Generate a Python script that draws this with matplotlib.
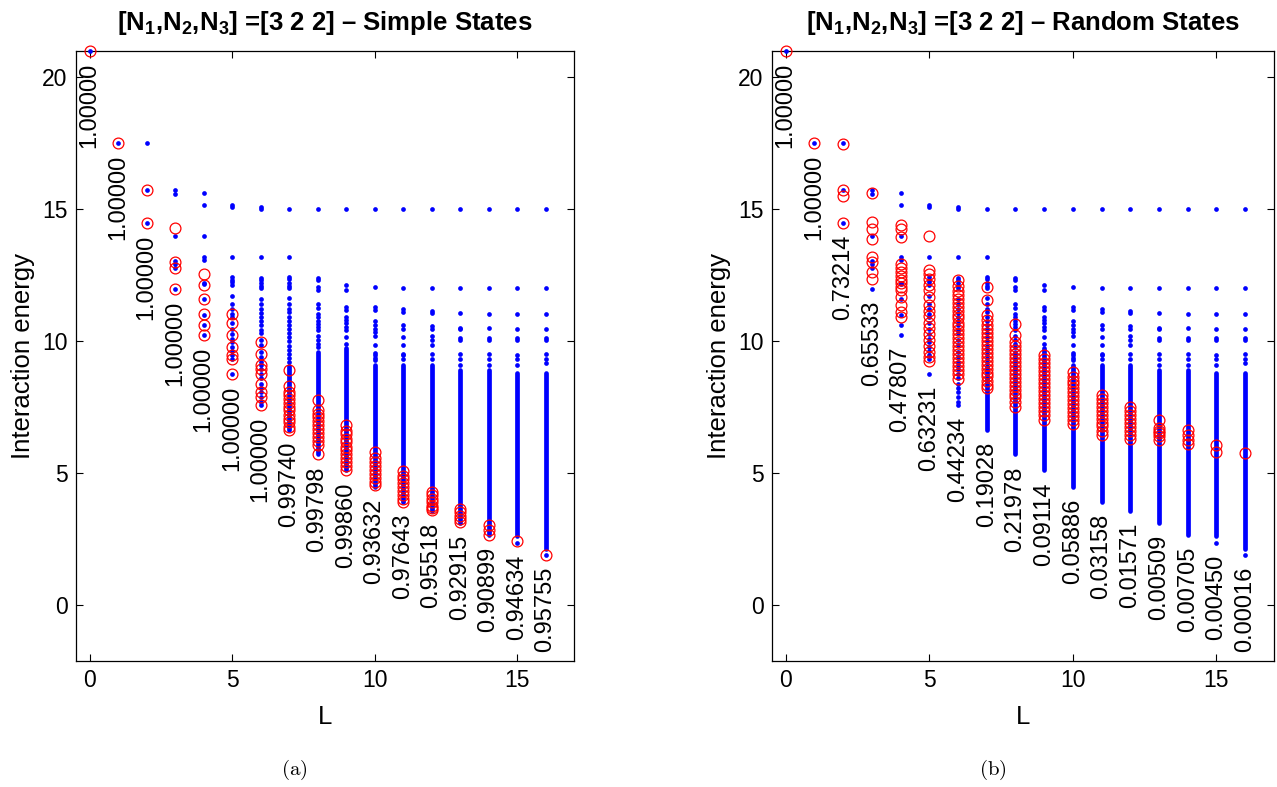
import matplotlib.pyplot as plt

plt.rcParams['font.family'] = ['Liberation Sans', 'DejaVu Sans']
plt.rcParams['mathtext.fontset'] = 'custom'
plt.rcParams['mathtext.rm'] = 'Liberation Sans'
plt.rcParams['mathtext.bf'] = 'Liberation Sans:bold'

L_vals = list(range(17))

levels = [
    [21.0],
    [17.5],
    [17.5, 15.72, 14.47],
    [15.71, 15.59, 13.98, 13.02, 12.93, 12.75, 11.98],
    [15.6, 15.16, 13.98, 13.18, 13.08, 12.21, 12.15, 11.58, 11.0, 10.6, 10.24],
    [15.16, 15.06, 13.2, 12.43, 12.33, 12.24, 12.14, 11.69, 11.42, 11.2, 11.03, 10.9,
     10.68, 10.45, 10.25, 10.09, 9.95, 9.77, 9.62, 9.46, 9.33, 8.76],
    [15.06, 15.02, 13.2, 12.4, 12.3, 12.2, 12.1, 12.0, 11.6, 11.4, 11.22, 11.05, 10.9,
     10.75, 10.6, 10.4, 10.3, 10.03, 9.85, 9.58, 9.4, 9.2, 9.08, 8.95, 8.76, 8.6, 8.38,
     8.2, 8.07, 7.88, 7.7, 7.56],
    [15.0, 13.2, 12.42, 12.35, 12.2, 12.1, 12.0, 11.62, 11.4, 11.22, 11.1, 10.92, 10.75,
     10.6, 10.45, 10.3, 10.15, 10.0, 9.82, 9.65, 9.5, 9.35, 9.2],
    [15.0, 12.4, 12.3, 12.05, 11.95, 11.42, 11.25, 11.04, 10.9, 10.75, 10.66, 10.52,
     10.41, 10.19, 10.05, 9.9, 9.77],
    [15.0, 12.13, 11.95, 11.29, 11.16, 10.91, 10.8, 10.68, 10.53, 10.41, 10.15, 9.9],
    [15.0, 12.05, 11.29, 11.16, 10.76, 10.6, 10.45, 10.34, 10.18, 9.86, 9.56, 9.46, 9.34, 9.27],
    [15.0, 12.0, 11.2, 11.1, 10.6, 10.45, 10.17, 9.86, 9.52, 9.45, 9.3],
    [15.0, 12.0, 11.12, 11.05, 10.55, 10.45, 10.2, 10.05, 9.86, 9.5, 9.3],
    [15.0, 12.0, 11.05, 10.5, 10.45, 10.1, 10.02, 9.5, 9.3, 9.1],
    [15.0, 12.0, 11.04, 10.48, 10.1, 10.03, 9.5, 9.3, 9.1],
    [15.0, 12.0, 11.04, 10.46, 10.12, 10.05, 9.48, 9.3, 9.1, 2.36],
    [15.0, 12.0, 11.04, 10.46, 10.12, 10.04, 9.5, 9.3, 9.15, 1.88],
]

# parts of the spectrum too dense to tell the dots apart: (low, high)
dense = [None] * 7 + [
    (6.62, 9.05), (5.7, 9.6), (5.1, 9.75), (4.47, 9.08), (3.9, 9.1), (3.55, 9.1),
    (3.1, 8.9), (2.64, 8.9), (2.6, 8.8), (2.1, 8.8),
]

# energies of the trial states (red circles)
simple_E = [
    [21.0],
    [17.5],
    [15.72, 14.47],
    [14.3, 13.0, 12.76, 11.98],
    [12.55, 12.12, 11.58, 11.02, 10.62, 10.24],
    [11.03, 10.68, 10.23, 9.77, 9.46, 9.33, 8.76],
    [9.96, 9.52, 9.08, 8.95, 8.76, 8.38, 8.07, 7.88, 7.56],
    [8.89, 8.3, 8.07, 7.95, 7.82, 7.66, 7.5, 7.37, 7.2, 7.05, 6.92, 6.75, 6.62],
    [7.78, 7.38, 7.25, 7.12, 6.95, 6.8, 6.66, 6.5, 6.36, 6.2, 6.04, 5.7],
    [6.8, 6.6, 6.46, 6.3, 6.16, 6.0, 5.86, 5.7, 5.56, 5.4, 5.26, 5.1],
    [5.8, 5.55, 5.42, 5.26, 5.1, 4.96, 4.8, 4.66, 4.53],
    [5.06, 4.9, 4.76, 4.6, 4.45, 4.3, 4.16, 4.02, 3.9],
    [4.28, 4.15, 4.02, 3.88, 3.76, 3.66, 3.59],
    [3.65, 3.5, 3.38, 3.25, 3.14],
    [3.02, 2.83, 2.64],
    [2.42],
    [1.88],
]

random_E = [
    [21.0],
    [17.5],
    [17.48, 15.72, 15.48, 14.48],
    [15.6, 14.51, 14.26, 13.88, 13.18, 12.99, 12.61, 12.36],
    [14.38, 14.25, 13.94, 12.93, 12.75, 12.6, 12.45, 12.3, 12.18, 12.05, 11.92, 11.67,
     11.35, 11.1, 10.91],
    [13.98, 12.68, 12.55, 12.35, 12.11, 11.95, 11.67, 11.36, 11.15, 10.95, 10.7, 10.5,
     10.25, 10.02, 9.8, 9.6, 9.4, 9.25],
    [12.3, 12.1, 11.9, 11.76, 11.6, 11.45, 11.3, 11.15, 11.0, 10.86, 10.7, 10.55, 10.4,
     10.25, 10.1, 9.96, 9.8, 9.65, 9.5, 9.35, 9.2, 9.05, 8.9, 8.75, 8.57],
    [12.04, 11.54, 11.0, 10.8, 10.6, 10.46, 10.3, 10.15, 10.0, 9.86, 9.7, 9.55, 9.4,
     9.26, 9.1, 8.95, 8.8, 8.66, 8.5, 8.35, 8.2],
    [10.66, 10.22, 9.97, 9.8, 9.65, 9.5, 9.36, 9.2, 9.05, 8.9, 8.76, 8.6, 8.45, 8.3,
     8.15, 8.0, 7.86, 7.7, 7.5],
    [9.46, 9.3, 9.15, 9.0, 8.86, 8.7, 8.55, 8.4, 8.25, 8.1, 7.96, 7.8, 7.65, 7.5, 7.35,
     7.2, 7.0],
    [8.83, 8.65, 8.5, 8.36, 8.2, 8.05, 7.9, 7.76, 7.6, 7.45, 7.3, 7.15, 7.0, 6.87],
    [7.94, 7.8, 7.65, 7.5, 7.36, 7.2, 7.05, 6.9, 6.76, 6.6, 6.43],
    [7.5, 7.35, 7.2, 7.06, 6.9, 6.75, 6.6, 6.45, 6.3],
    [7.0, 6.7, 6.6, 6.5, 6.4, 6.24],
    [6.62, 6.45, 6.25, 6.11],
    [6.05, 5.8],
    [5.76],
]

simple_overlap = ['1.00000'] * 7 + ['0.99740', '0.99798', '0.99860', '0.93632', '0.97643',
                                    '0.95518', '0.92915', '0.90899', '0.94634', '0.95755']
random_overlap = ['1.00000', '1.00000', '0.73214', '0.65533', '0.47807', '0.63231',
                  '0.44234', '0.19028', '0.21978', '0.09114', '0.05886', '0.03158',
                  '0.01571', '0.00509', '0.00705', '0.00450', '0.00016']


def draw_panel(ax, trial_E, overlap, title):
    for L in L_vals:
        if dense[L] is not None:
            ax.vlines(L, dense[L][0], dense[L][1], color='blue', lw=3.4,
                      capstyle='round', zorder=2)
        ax.plot([L] * len(levels[L]), levels[L], 'o', color='blue', ms=3.4,
                mec='none', clip_on=False, zorder=3)
        ax.plot([L] * len(trial_E[L]), trial_E[L], 'o', mfc='none', mec='red',
                ms=7.8, mew=0.9, clip_on=False, zorder=4)
        lowest = min(levels[L] + ([dense[L][0]] if dense[L] else []))
        ax.text(L, lowest - 0.45, overlap[L], rotation=90, ha='center', va='top',
                fontsize=17)
    ax.set_xlim(-0.48, 17.0)
    ax.set_ylim(-2.13, 20.98)
    ax.set_xticks([0, 5, 10, 15])
    ax.set_yticks([0, 5, 10, 15, 20])
    ax.tick_params(direction='in', top=True, right=True, labelsize=16.5, length=5,
                   width=0.8, pad=6)
    for s in ax.spines.values():
        s.set_linewidth(0.9)
    ax.set_xlabel('L', fontsize=18.5, labelpad=9)
    ax.set_ylabel('Interaction energy', fontsize=18.5, labelpad=5)
    ax.set_title(title, fontsize=18.5, fontweight='bold', pad=15)


fig = plt.figure(figsize=(12.77, 7.87), dpi=100)
ax1 = fig.add_axes([0.0595, 0.1601, 0.390, 0.7747])
ax2 = fig.add_axes([0.6045, 0.1601, 0.393, 0.7747])

draw_panel(ax1, simple_E, simple_overlap,
           r'[N$_\mathbf{1}$,N$_\mathbf{2}$,N$_\mathbf{3}$] =[3 2 2] – Simple States')
draw_panel(ax2, random_E, random_overlap,
           r'[N$_\mathbf{1}$,N$_\mathbf{2}$,N$_\mathbf{3}$] =[3 2 2] – Random States')

fig.text(294 / 1277, 1 - 770 / 787, r'$\mathrm{(a)}$', ha='center', va='center',
         fontsize=15, math_fontfamily='cm')
fig.text(993 / 1277, 1 - 770 / 787, r'$\mathrm{(b)}$', ha='center', va='center',
         fontsize=15, math_fontfamily='cm')

fig.savefig('out.png', dpi=100)
